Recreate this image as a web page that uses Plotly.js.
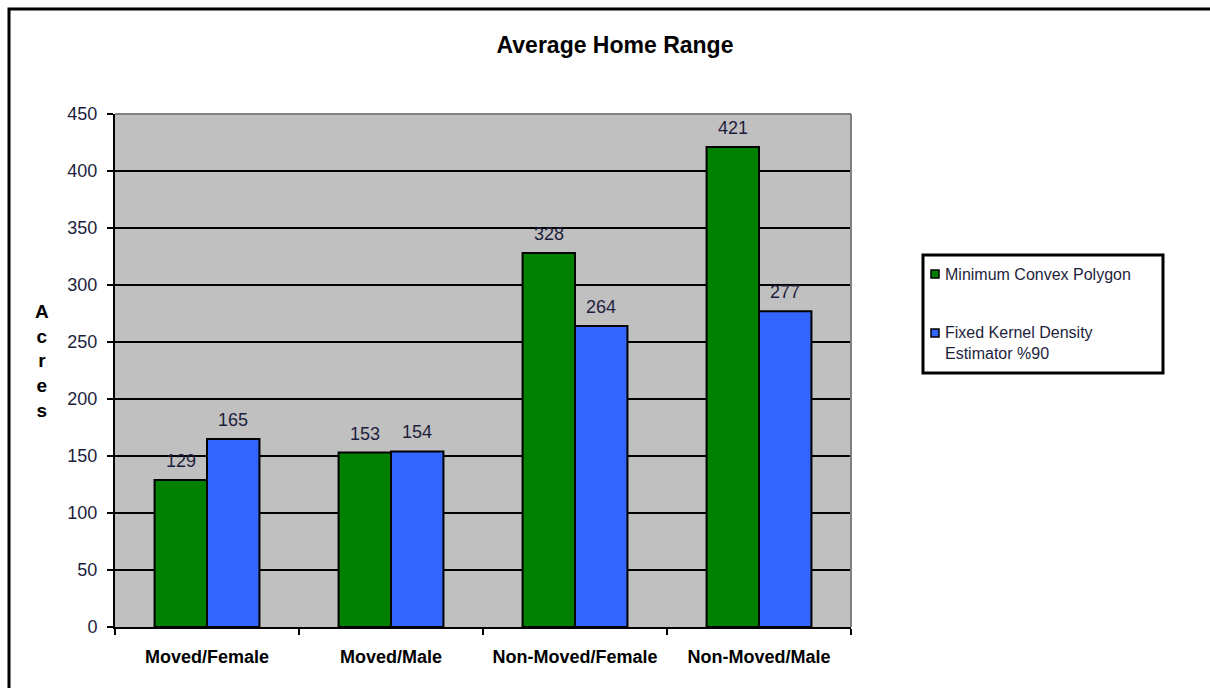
<!DOCTYPE html>
<html>
<head>
<meta charset="utf-8">
<script src="https://cdn.plot.ly/plotly-3.0.1.min.js"></script>
<style>
  html, body { margin: 0; padding: 0; background: #fff; }
  #chart { width: 1210px; height: 688px; }
</style>
</head>
<body>
<div id="chart"></div>
<script>
// Average home range (acres) by group
const categories = ['Moved/Female', 'Moved/Male', 'Non-Moved/Female', 'Non-Moved/Male'];
const mcpValues = [129, 153, 328, 421];
const kernelValues = [165, 154, 264, 277];
const seriesNames = ['Minimum Convex Polygon', 'Fixed Kernel Density<br>Estimator %90'];
const seriesColors = ['#008000', '#3366FF'];
const yTicks = [0, 50, 100, 150, 200, 250, 300, 350, 400, 450];

const FONT = 'Liberation Sans, Arial, sans-serif';
const TEXT_COLOR = '#1e1e3c';

// page geometry (pixels)
const W = 1210, H = 688;
const M = { l: 115, r: 359, t: 114, b: 61 };
const plotW = W - M.l - M.r, plotH = H - M.t - M.b;
const px = x => (x - M.l) / plotW;          // page x -> paper x
const py = y => (H - M.b - y) / plotH;      // page y -> paper y

const BARGAP = 0.43;
const barWidthPx = plotW / categories.length * (1 - BARGAP) / 2;

const allSeries = [mcpValues, kernelValues];

const data = allSeries.map((values, i) => ({
  type: 'bar',
  x: categories,
  y: values,
  name: seriesNames[i].replace('<br>', ' '),
  marker: { color: seriesColors[i], line: { color: '#000', width: 2 } },
  hoverinfo: 'x+y',
  showlegend: false
}));

// value labels above each bar
const valueLabels = [];
allSeries.forEach((values, i) => {
  values.forEach((v, j) => {
    valueLabels.push({
      text: String(v),
      xref: 'x', yref: 'y',
      x: categories[j], y: v,
      xshift: (i === 0 ? -0.5 : 0.5) * barWidthPx,
      yshift: 19,
      xanchor: 'center', yanchor: 'middle',
      showarrow: false,
      font: { family: FONT, size: 18, color: TEXT_COLOR }
    });
  });
});

// legend box drawn with shapes and text
const legendBox = { x0: 923, x1: 1163, y0: 255, y1: 373 };
const legendRows = [
  { markerY: 274, textY: 274 },
  { markerY: 333, textY: 343 }
];
const legendShapes = [
  { type: 'rect', xref: 'paper', yref: 'paper',
    x0: px(legendBox.x0), x1: px(legendBox.x1), y0: py(legendBox.y1), y1: py(legendBox.y0),
    line: { color: '#000', width: 3 }, fillcolor: '#ffffff' }
];
const legendTexts = [];
legendRows.forEach((row, i) => {
  legendShapes.push({
    type: 'rect', xref: 'paper', yref: 'paper',
    x0: px(931), x1: px(939), y0: py(row.markerY + 4), y1: py(row.markerY - 4),
    line: { color: '#000', width: 1.5 }, fillcolor: seriesColors[i]
  });
  legendTexts.push({
    text: seriesNames[i],
    xref: 'paper', yref: 'paper',
    x: px(943), y: py(row.textY),
    xanchor: 'left', yanchor: 'middle', align: 'left',
    showarrow: false,
    font: { family: FONT, size: 16, color: TEXT_COLOR }
  });
});

const layout = {
  width: W,
  height: H,
  margin: { l: M.l, r: M.r, t: M.t, b: M.b, pad: 0 },
  paper_bgcolor: '#ffffff',
  plot_bgcolor: '#C0C0C0',
  font: { family: FONT, color: TEXT_COLOR },
  showlegend: false,
  barmode: 'group',
  bargap: BARGAP,
  bargroupgap: 0,
  title: {
    text: '<b>Average Home Range</b>',
    font: { family: FONT, size: 23, color: '#000' },
    x: 615 / W, xanchor: 'center', xref: 'container',
    y: 1 - 45 / H, yanchor: 'middle', yref: 'container'
  },
  xaxis: {
    type: 'category',
    showline: true, linecolor: '#000', linewidth: 2,
    ticks: 'outside', tickson: 'boundaries', ticklen: 6, tickwidth: 2, tickcolor: '#000',
    tickfont: { family: FONT, size: 18, color: '#000', weight: 'bold' },
    ticklabelstandoff: 12,
    showgrid: false,
    fixedrange: true
  },
  yaxis: {
    range: [0, 450],
    tickvals: yTicks,
    ticktext: yTicks.map(String),
    showline: true, linecolor: '#000', linewidth: 2,
    ticks: 'outside', ticklen: 6, tickwidth: 2, tickcolor: '#000',
    tickfont: { family: FONT, size: 18, color: TEXT_COLOR },
    ticklabelstandoff: 6,
    showgrid: true, gridcolor: '#000', gridwidth: 2,
    zeroline: false,
    fixedrange: true
  },
  annotations: [
    {
      text: '<b>A<br>c<br>r<br>e<br>s</b>',
      xref: 'paper', yref: 'paper',
      x: px(42), y: py(361),
      xanchor: 'center', yanchor: 'middle',
      showarrow: false, align: 'center',
      font: { family: FONT, size: 19, color: '#000' }
    }
  ].concat(valueLabels, legendTexts),
  shapes: [
    // plot-area frame on the top and right sides
    { type: 'line', xref: 'paper', yref: 'paper', x0: 0, x1: 1, y0: 1, y1: 1,
      line: { color: '#808080', width: 2 } },
    { type: 'line', xref: 'paper', yref: 'paper', x0: 1, x1: 1, y0: 0, y1: 1,
      line: { color: '#808080', width: 2 } },
    // outer chart frame
    { type: 'rect', xref: 'paper', yref: 'paper',
      x0: px(9), x1: 3, y0: -3, y1: py(9),
      line: { color: '#000', width: 3 }, fillcolor: 'rgba(0,0,0,0)' }
  ].concat(legendShapes)
};

Plotly.newPlot('chart', data, layout, { displayModeBar: false, staticPlot: true });
</script>
</body>
</html>
